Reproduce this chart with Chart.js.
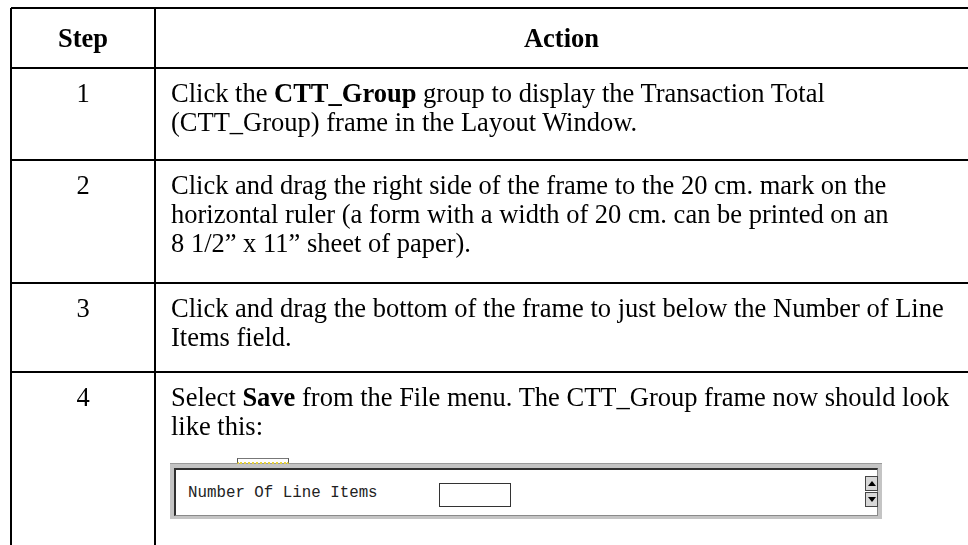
<!DOCTYPE html>
<html>
<head>
<meta charset="utf-8">
<script src="https://cdn.jsdelivr.net/npm/chart.js@4.4.1/dist/chart.umd.min.js"></script>
<style>
    html, body { margin: 0; padding: 0; background: #fff; }
    #wrap { position: relative; width: 968px; height: 545px; overflow: hidden; }
    #table { position: absolute; left: 0; top: 0; }
    .cell {
        position: absolute;
        font-family: "Liberation Serif", "Times New Roman", serif;
        font-size: 26.5px;
        line-height: 29px;
        color: #000;
        white-space: nowrap;
    }
    .head { font-weight: bold; display: flex; align-items: center; justify-content: center; }
    .step { text-align: center; }
    /* small screen grab of the CTT_Group frame */
    .frame { position: absolute; background: #c4c4c4; border-top: 1px solid #9a9a9a; box-sizing: border-box; }
    .frame-in { position: absolute; left: 4px; top: 4px; right: 4px; bottom: 3px; background: #fff;
        border-top: 2px solid #303030; border-left: 2px solid #303030; border-bottom: 1px solid #8a8a8a; border-right: 1px solid #8a8a8a; }
    .mono { position: absolute; font-family: "Liberation Mono", "Courier New", monospace; font-size: 15.8px; color: #222; white-space: nowrap; }
    .field { position: absolute; border: 1px solid #333; background: #fff; box-sizing: border-box; }
    .tab { position: absolute; border-left: 1px solid #555; border-right: 1px solid #555; border-top: 1px solid #777; border-bottom: 2px dotted #e6d23c; box-sizing: border-box; }
    .spin { position: absolute; width: 13px; height: 15px; background: #d8d8d8; border: 1px solid #444; box-sizing: border-box; }
    .spin i { position: absolute; left: 2px; width: 0; height: 0; border-left: 4px solid transparent; border-right: 4px solid transparent; }
    .up i { top: 4px; border-bottom: 5px solid #000; }
    .dn i { top: 4px; border-top: 5px solid #000; }
</style>
</head>
<body>
<div id="wrap">
    <canvas id="table" width="968" height="545"></canvas>
</div>
<script>
// table content
const headers = ['Step', 'Action'];
const steps = ['1', '2', '3', '4'];
const actions = [
    ['Click the <b>CTT_Group</b> group to display the Transaction Total',
     '(CTT_Group) frame in the Layout Window.'],
    ['Click and drag the right side of the frame to the 20 cm. mark on the',
     'horizontal ruler (a form with a width of 20 cm. can be printed on an',
     '8 1/2\u201d x 11\u201d sheet of paper).'],
    ['Click and drag the bottom of the frame to just below the Number of Line',
     'Items field.'],
    ['Select <b>Save</b> from the File menu. The CTT_Group frame now should look',
     'like this:']
];
const frameLabel = 'Number Of Line Items';

// grid: column and row edges in table units
const colEdges = [0, 144];
const rowEdges = [0, 60, 152, 275, 364];
const tableWidth = 957;
const tableHeight = 537;

const chart = new Chart(document.getElementById('table'), {
    type: 'scatter',
    data: { datasets: [] },
    options: {
        responsive: false,
        animation: false,
        devicePixelRatio: 1,
        layout: { padding: { left: 11, top: 8, right: 0, bottom: 0 } },
        plugins: { legend: { display: false }, tooltip: { enabled: false } },
        scales: {
            x: {
                type: 'linear',
                min: 0,
                max: tableWidth,
                afterBuildTicks: scale => { scale.ticks = colEdges.map(v => ({ value: v })); },
                grid: { color: '#000', lineWidth: 2, drawTicks: false },
                border: { display: false },
                ticks: { display: false }
            },
            y: {
                type: 'linear',
                reverse: true,
                min: 0,
                max: tableHeight,
                afterBuildTicks: scale => { scale.ticks = rowEdges.map(v => ({ value: v })); },
                grid: { color: '#000', lineWidth: 2, drawTicks: false },
                border: { display: false },
                ticks: { display: false }
            }
        }
    }
});

// put the text into the cells, using the chart's own scales
const wrap = document.getElementById('wrap');
const xs = chart.scales.x;
const ys = chart.scales.y;
const px = v => xs.getPixelForValue(v);
const py = v => ys.getPixelForValue(v);

function addCell(cls, left, top, width, height, html) {
    const d = document.createElement('div');
    d.className = 'cell ' + cls;
    d.style.left = left + 'px';
    d.style.top = top + 'px';
    d.style.width = width + 'px';
    if (height) d.style.height = height + 'px';
    d.innerHTML = html;
    wrap.appendChild(d);
    return d;
}

const c0 = px(colEdges[0]), c1 = px(colEdges[1]), c2 = px(tableWidth);
const headTop = py(rowEdges[0]), headBottom = py(rowEdges[1]);
addCell('head', c0, headTop, c1 - c0, headBottom - headTop, headers[0]);
addCell('head', c1, headTop, c2 - c1, headBottom - headTop, headers[1]);

steps.forEach((s, i) => {
    const top = py(rowEdges[i + 1]) + 10.5;
    addCell('step', c0, top, c1 - c0, 0, s);
    addCell('', c1 + 16, top, c2 - c1 - 16, 0, actions[i].join('<br>'));
});

// the little frame picture under step 4
const lastTop = py(rowEdges[4]);
const fx = c1 + 15, fy = lastTop + 91;
const frame = document.createElement('div');
frame.className = 'frame';
Object.assign(frame.style, { left: fx + 'px', top: fy + 'px', width: '712px', height: '56px' });
frame.innerHTML = '<div class="frame-in"></div>';
wrap.appendChild(frame);

const tab = document.createElement('div');
tab.className = 'tab';
Object.assign(tab.style, { left: (fx + 67) + 'px', top: (fy - 5) + 'px', width: '52px', height: '6px' });
wrap.appendChild(tab);

const label = document.createElement('div');
label.className = 'mono';
label.textContent = frameLabel;
Object.assign(label.style, { left: (fx + 18) + 'px', top: (fy + 21) + 'px' });
wrap.appendChild(label);

const field = document.createElement('div');
field.className = 'field';
Object.assign(field.style, { left: (fx + 269) + 'px', top: (fy + 20) + 'px', width: '72px', height: '24px' });
wrap.appendChild(field);

const up = document.createElement('div');
up.className = 'spin up';
up.innerHTML = '<i></i>';
Object.assign(up.style, { left: (fx + 695) + 'px', top: (fy + 13) + 'px' });
wrap.appendChild(up);

const dn = document.createElement('div');
dn.className = 'spin dn';
dn.innerHTML = '<i></i>';
Object.assign(dn.style, { left: (fx + 695) + 'px', top: (fy + 29) + 'px' });
wrap.appendChild(dn);
</script>
</body>
</html>
